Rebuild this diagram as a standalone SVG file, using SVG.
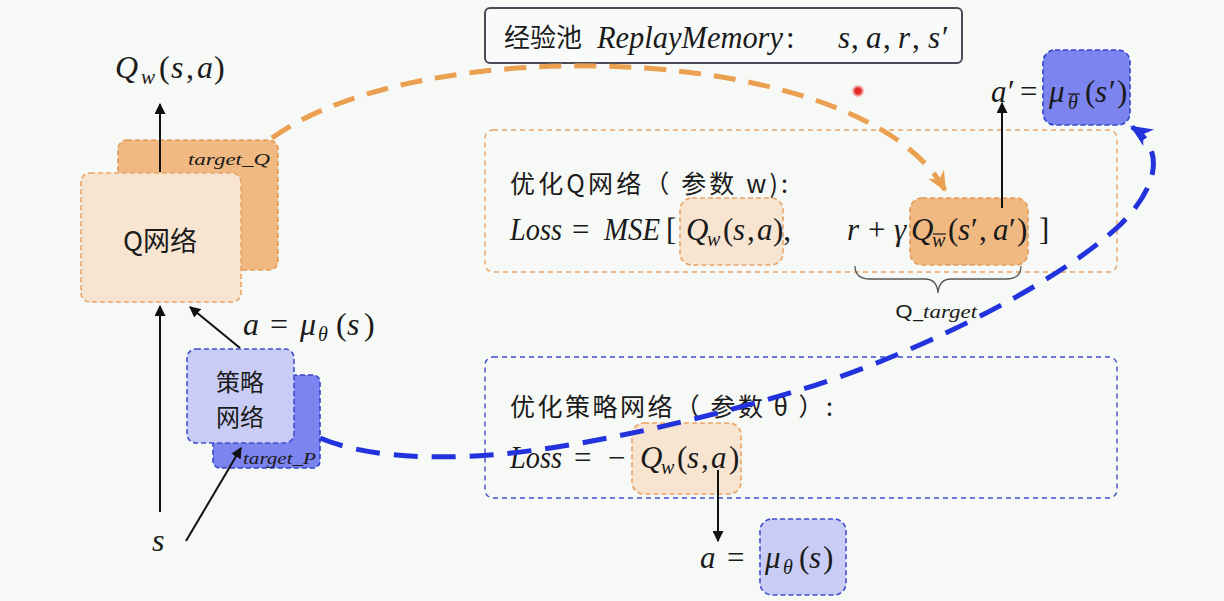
<svg xmlns="http://www.w3.org/2000/svg" width="1224" height="601" viewBox="0 0 1224 601">
<defs>
<style>
.cjk{font-family:"Noto Sans CJK SC","Noto Sans",sans-serif;fill:#1a1a1a}
.m{font-family:"Liberation Serif","DejaVu Serif",serif;font-style:italic;fill:#1a1a1a}
.u{font-style:normal}
.ol{fill:#f8e5d1;stroke:#e8a466;stroke-width:1.6;stroke-dasharray:5 3}
.od{fill:#f0b982;stroke:#e29c58;stroke-width:1.6;stroke-dasharray:5 3}
.bl{fill:#c9cdf5;stroke:#3f4fcf;stroke-width:1.6;stroke-dasharray:5 3}
.bd{fill:#7c84ef;stroke:#3444cc;stroke-width:1.6;stroke-dasharray:5 3}
.arr{stroke:#111;stroke-width:2;fill:none;marker-end:url(#ah)}
.bar{stroke:#1a1a1a;stroke-width:1.2}
</style>
<marker id="ah" viewBox="0 0 10 10" refX="9" refY="5" markerWidth="11" markerHeight="11" markerUnits="userSpaceOnUse" orient="auto"><path d="M0,0 L10,5 L0,10 z" fill="#111"/></marker>
<marker id="aho" viewBox="0 0 10 10" refX="9" refY="5" markerWidth="20" markerHeight="20" markerUnits="userSpaceOnUse" orient="auto"><path d="M0,0.5 L10,5 L0,9.5 L3,5 z" fill="#eaa050"/></marker>
<marker id="ahb" viewBox="0 0 10 10" refX="9" refY="5" markerWidth="22" markerHeight="22" markerUnits="userSpaceOnUse" orient="auto"><path d="M0,0.5 L10,5 L0,9.5 L3,5 z" fill="#2233dd"/></marker>
<radialGradient id="dot"><stop offset="0" stop-color="#e02020"/><stop offset="0.45" stop-color="#e63030"/><stop offset="1" stop-color="#f6a0a0" stop-opacity="0"/></radialGradient>
</defs>
<rect width="1224" height="601" fill="#f6f9f5"/>

<g id="replay-memory">
<rect x="485" y="8" width="477" height="55" rx="5" fill="#f9fbfa" stroke="#4a4a58" stroke-width="2"/>
<text class="cjk" x="504" y="47" font-size="26">经验池</text>
<text class="m" x="597" y="48" font-size="31" textLength="186" lengthAdjust="spacingAndGlyphs">ReplayMemory</text>
<text class="m u" x="786" y="48" font-size="31">:</text>
<text class="m" y="48" font-size="31"><tspan x="838">s</tspan><tspan class="u" x="851">,</tspan><tspan x="866">a</tspan><tspan class="u" x="883">,</tspan><tspan x="898">r</tspan><tspan class="u" x="912">,</tspan><tspan x="928">s</tspan><tspan class="u" x="942">′</tspan></text>
</g>

<g id="q-output-label">
<text class="m" y="78" font-size="32"><tspan x="115">Q</tspan><tspan x="141" font-size="21" dy="6">w</tspan><tspan class="u" x="159" dy="-6">(</tspan><tspan x="171">s</tspan><tspan class="u" x="186">,</tspan><tspan x="197">a</tspan><tspan class="u" x="214">)</tspan></text>
</g>

<g id="target-q">
<rect class="od" x="118" y="140" width="160" height="130" rx="9"/>
<text class="m" x="188" y="165" font-size="17" textLength="82" lengthAdjust="spacingAndGlyphs">target_Q</text>
</g>

<g id="q-network">
<rect class="ol" x="81" y="173" width="160" height="129" rx="9"/>
<text class="cjk" x="160" y="251" font-size="27" text-anchor="middle">Q网络</text>
</g>

<g id="target-p">
<rect class="bd" x="213" y="375" width="107" height="93" rx="7"/>
<text class="m" x="243" y="464" font-size="16" textLength="73" lengthAdjust="spacingAndGlyphs">target_P</text>
</g>

<g id="policy-network">
<rect class="bl" x="187" y="349" width="107" height="94" rx="9"/>
<text class="cjk" x="240" y="391" font-size="24" text-anchor="middle">策略</text>
<text class="cjk" x="240" y="426" font-size="24" text-anchor="middle">网络</text>
</g>

<g id="action-label">
<text class="m" y="335" font-size="32"><tspan x="243">a</tspan><tspan class="u" x="270">=</tspan><tspan x="300">μ</tspan><tspan x="318" font-size="20" dy="6">θ</tspan><tspan class="u" x="336" dy="-6">(</tspan><tspan x="347">s</tspan><tspan class="u" x="364">)</tspan></text>
</g>

<g id="state-label">
<text class="m" x="152" y="551" font-size="32">s</text>
</g>

<g id="optimize-q">
<rect x="485" y="130" width="632" height="142" rx="8" fill="none" stroke="#e8a466" stroke-width="1.4" stroke-dasharray="5 4"/>
<text class="cjk" x="510" y="193" font-size="25" textLength="278" lengthAdjust="spacing">优化Q网络（ 参数 w):</text>
<rect class="ol" x="680" y="198" width="103" height="67" rx="12"/>
<rect class="od" x="910" y="198" width="118" height="67" rx="12"/>
<text class="m" y="240" font-size="31"><tspan x="510" textLength="52" lengthAdjust="spacingAndGlyphs">Loss</tspan><tspan class="u" x="572">=</tspan><tspan x="604" textLength="56" lengthAdjust="spacingAndGlyphs">MSE</tspan><tspan class="u" x="666">[</tspan><tspan x="686">Q</tspan><tspan x="707" font-size="20" dy="6">w</tspan><tspan class="u" x="723" dy="-6">(</tspan><tspan x="733">s</tspan><tspan class="u" x="747">,</tspan><tspan x="757">a</tspan><tspan class="u" x="773">),</tspan><tspan x="847">r</tspan><tspan class="u" x="868">+</tspan><tspan x="894">γ</tspan><tspan x="911">Q</tspan><tspan x="932" font-size="20" dy="7">w</tspan><tspan class="u" x="948" dy="-7">(</tspan><tspan x="958">s</tspan><tspan class="u" x="971">′</tspan><tspan class="u" x="979">,</tspan><tspan x="993">a</tspan><tspan class="u" x="1009">′</tspan><tspan class="u" x="1017">)</tspan><tspan class="u" x="1039">]</tspan></text>
<line class="bar" x1="933" y1="234" x2="946" y2="234"/>
<path d="M855,266 Q855,279 870,279 L925,279 Q937,279 938,293 Q939,279 951,279 L1006,279 Q1021,279 1021,266" fill="none" stroke="#555" stroke-width="1.3"/>
<text x="895" y="318" font-size="18" class="m" textLength="82" lengthAdjust="spacingAndGlyphs"><tspan class="u" font-family="Noto Sans, sans-serif">Q_</tspan>target</text>
</g>

<g id="next-action">
<rect class="bd" x="1043" y="50" width="87" height="75" rx="12"/>
<text class="m" y="102" font-size="31"><tspan x="991">a</tspan><tspan class="u" x="1008">′</tspan><tspan class="u" x="1020">=</tspan><tspan x="1049">μ</tspan><tspan x="1068" font-size="20" dy="7">θ</tspan><tspan class="u" x="1085" dy="-7">(</tspan><tspan x="1095">s</tspan><tspan class="u" x="1109">′</tspan><tspan class="u" x="1117">)</tspan></text>
<line class="bar" x1="1068" y1="94" x2="1080" y2="94"/>
</g>

<g id="optimize-policy">
<rect x="485" y="357" width="632" height="141" rx="8" fill="none" stroke="#3f4fcf" stroke-width="1.4" stroke-dasharray="5 4"/>
<text class="cjk" x="510" y="416" font-size="25" textLength="323" lengthAdjust="spacing">优化策略网络（ 参数 θ ）:</text>
<rect class="ol" x="632" y="423" width="109" height="71" rx="12"/>
<text class="m" y="468" font-size="31"><tspan x="510" textLength="52" lengthAdjust="spacingAndGlyphs">Loss</tspan><tspan class="u" x="574">=</tspan><tspan class="u" x="608">−</tspan><tspan x="640">Q</tspan><tspan x="661" font-size="20" dy="6">w</tspan><tspan class="u" x="677" dy="-6">(</tspan><tspan x="687">s</tspan><tspan class="u" x="701">,</tspan><tspan x="711">a</tspan><tspan class="u" x="729">)</tspan></text>
</g>

<g id="new-action">
<rect class="bl" x="760" y="519" width="86" height="76" rx="12"/>
<text class="m" y="568" font-size="31"><tspan x="700">a</tspan><tspan class="u" x="727">=</tspan><tspan x="765">μ</tspan><tspan x="783" font-size="20" dy="6">θ</tspan><tspan class="u" x="799" dy="-6">(</tspan><tspan x="809">s</tspan><tspan class="u" x="823">)</tspan></text>
</g>

<g id="connectors">
<line class="arr" x1="160" y1="172" x2="160" y2="104"/>
<line class="arr" x1="160" y1="512" x2="160" y2="306"/>
<line class="arr" x1="240" y1="348" x2="190" y2="307"/>
<line class="arr" x1="186" y1="541" x2="241" y2="448"/>
<line class="arr" x1="1002" y1="208" x2="1002" y2="103"/>
<line class="arr" x1="718" y1="470" x2="718" y2="541"/>
<path d="M272,138 C420,30 860,40 945,190" fill="none" stroke="#eaa050" stroke-width="5" stroke-dasharray="22 13" marker-end="url(#aho)"/>
<path d="M320,438 C360,455 420,460 490,455 C580,448 700,420 800,390 C900,360 1050,290 1120,225 C1165,180 1160,145 1132,127" fill="none" stroke="#2233dd" stroke-width="5" stroke-dasharray="24 14" marker-end="url(#ahb)"/>
</g>

<circle cx="858" cy="91" r="7" fill="url(#dot)"/>
</svg>
